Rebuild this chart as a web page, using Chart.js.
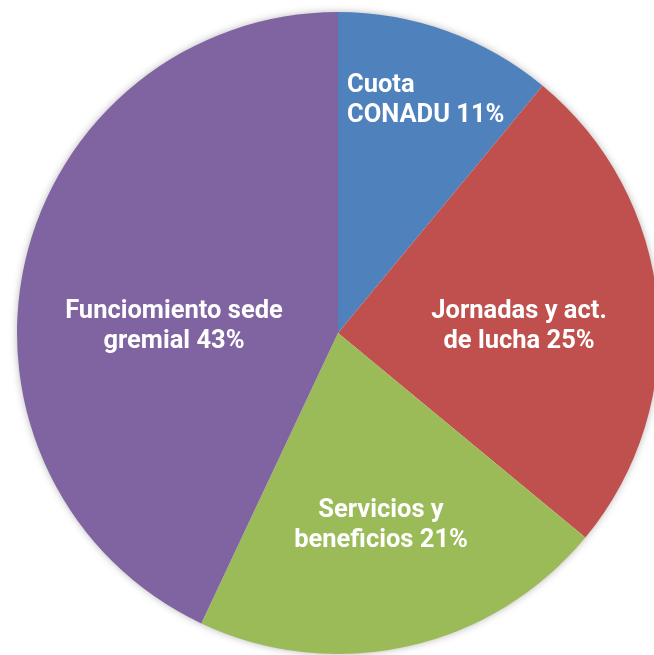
<!DOCTYPE html>
<html>
<head>
<meta charset="utf-8">
<script src="https://cdn.jsdelivr.net/npm/chart.js@4/dist/chart.umd.min.js"></script>
<style>
  html, body { margin: 0; padding: 0; background: #fff; overflow: hidden; }
  #wrap { position: absolute; left: 0; top: 0; width: 676px; height: 666px; }
</style>
</head>
<body>
<div id="wrap"><canvas id="pie"></canvas></div>
<script>
// slice names (split in lines as on the picture) and their shares
const categories = [
  ['Cuota', 'CONADU'],
  ['Jornadas y act.', 'de lucha'],
  ['Servicios y', 'beneficios'],
  ['Funciomiento sede', 'gremial']
];
const shares = [11, 25, 21, 43];
const colors = ['#4f81bd', '#c0504d', '#9bbb59', '#8064a2'];

// label anchors, relative to the pie centre, in units of radius
const labelSpots = [
  { dx: 0.028, dy: -0.751, align: 'left' },
  { dx: 0.564, dy: -0.047, align: 'center' },
  { dx: 0.134, dy: 0.573, align: 'center' },
  { dx: -0.511, dy: -0.047, align: 'center' }
];

// soft shadow behind the pie
const pieShadow = {
  id: 'pieShadow',
  beforeDatasetsDraw(chart) {
    const arc = chart.getDatasetMeta(0).data[0];
    if (!arc) return;
    const ctx = chart.ctx;
    ctx.save();
    ctx.shadowColor = 'rgba(0,0,0,0.35)';
    ctx.shadowBlur = 9;
    ctx.fillStyle = '#ffffff';
    ctx.beginPath();
    ctx.arc(arc.x, arc.y, arc.outerRadius - 1, 0, Math.PI * 2);
    ctx.fill();
    ctx.restore();
  }
};

// white labels inside the slices
const sliceLabels = {
  id: 'sliceLabels',
  afterDatasetsDraw(chart) {
    const meta = chart.getDatasetMeta(0);
    const ctx = chart.ctx;
    ctx.save();
    ctx.fillStyle = '#ffffff';
    ctx.font = 'bold 25.5px Roboto';
    ctx.textBaseline = 'alphabetic';
    meta.data.forEach((arc, i) => {
      const spot = labelSpots[i];
      const x = arc.x + spot.dx * arc.outerRadius;
      let y = arc.y + spot.dy * arc.outerRadius;
      const lines = categories[i].slice();
      lines[lines.length - 1] += ' ' + shares[i] + '%';
      ctx.textAlign = spot.align;
      lines.forEach(line => {
        ctx.fillText(line, x, y);
        y += 30.5;
      });
    });
    ctx.restore();
  }
};

new Chart(document.getElementById('pie'), {
  type: 'pie',
  data: {
    labels: categories,
    datasets: [{
      data: shares,
      backgroundColor: colors,
      borderWidth: 0
    }]
  },
  options: {
    responsive: true,
    maintainAspectRatio: false,
    animation: false,
    layout: { padding: 12 },
    plugins: {
      legend: { display: false },
      tooltip: { enabled: false }
    }
  },
  plugins: [pieShadow, sliceLabels]
});
</script>
</body>
</html>
